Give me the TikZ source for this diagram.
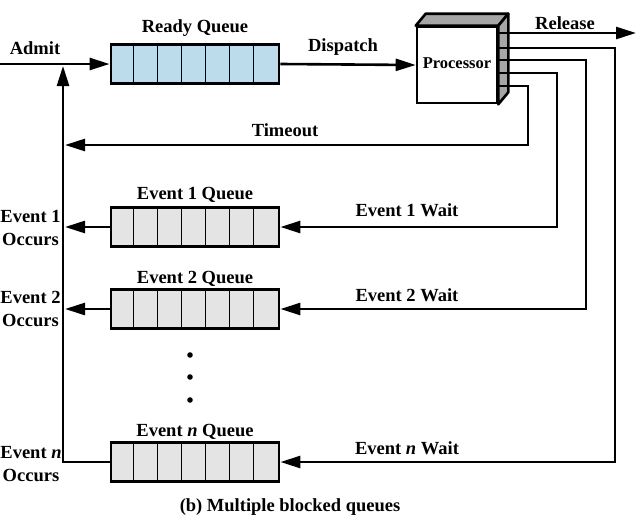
\documentclass[tikz,border=0pt]{standalone}
\usepackage{fontspec}
\setmainfont{Liberation Serif}
\usetikzlibrary{arrows.meta,calc}
\definecolor{readyblue}{HTML}{BCDCEB}
\definecolor{blockgray}{HTML}{E4E4E4}
\definecolor{boxshade}{HTML}{A6A6A6}
\begin{document}
\begin{tikzpicture}[x=1pt,y=-1pt,
  lbl/.style={font=\fontsize{18.5}{23}\selectfont\bfseries, inner sep=0pt, align=center},
  wire/.style={line width=2.6pt},
  arr/.style={wire,-{Triangle[length=20pt,width=12pt]}},
  queue/.style={draw, line width=2.8pt, minimum width=168pt, minimum height=39pt, inner sep=0pt},
  divider/.style={line width=1.4pt}]
\useasboundingbox (0,0) rectangle (636,522);

% queues
\node[queue, fill=readyblue] (rq) at (195,64) {};
\node[queue, fill=blockgray] (q1) at (195,227) {};
\node[queue, fill=blockgray] (q2) at (195,309) {};
\node[queue, fill=blockgray] (qn) at (195,462) {};
\foreach \q in {rq,q1,q2,qn}{
  \foreach \i in {1,...,6}{
    \draw[divider] ($(\q.north west)+(24*\i,0)$) -- ($(\q.south west)+(24*\i,0)$);
  }
}

% processor block
\node[draw, line width=2.6pt, fill=white, minimum width=80pt, minimum height=76pt, inner sep=0pt] (proc) at (457,65) {};
\draw[line width=2.6pt, fill=boxshade, line join=round]
  (proc.north west) -- ++(10,-12) -- ($(proc.north east)+(10,-12)$) -- (proc.north east) -- cycle;
\draw[line width=2.6pt, fill=boxshade, line join=round]
  (proc.north east) -- ++(10,-12) -- ($(proc.south east)+(10,-12)$) -- (proc.south east) -- cycle;
\node[font=\fontsize{16.5}{19}\selectfont\bfseries, inner sep=0pt] (proclbl) at (457,63) {Processor};

% processor outputs
\coordinate (p1) at (499,33);
\coordinate (p2) at (499,48);
\coordinate (p3) at (499,60);
\coordinate (p4) at (499,73);
\coordinate (p5) at (499,86);
\coordinate (out) at (636,33);
\coordinate (bus) at (63,66);
\coordinate (admitin) at (0,64);

% connectors
\draw[arr] (admitin) -- (rq.west);
\draw[arr] (rq.east) -- (proc.west);
\draw[arr] (p1) -- (out);
\draw[arr] (p5) -- (528,86) -- (528,145) -- (65,145);
\draw[arr] (p4) -- (557,73) -- (557,227) -- (q1.east);
\draw[arr] (p3) -- (586,60) -- (586,309) -- (q2.east);
\draw[arr] (p2) -- (615,48) -- (615,462) -- (qn.east);
\draw[arr] (q1.west) -- (65,227);
\draw[arr] (q2.west) -- (65,309);
\draw[arr] (qn.west) -- (63,462) -- (bus);

% dots
\foreach \yy [count=\k] in {355,377,400}{
  \fill (190,\yy) circle (2.8pt) coordinate (dot\k);
}

% labels
\node[lbl] (admit) at (35,48) {Admit};
\node[lbl] (rqlbl) at (195,28) {Ready Queue};
\node[lbl] (dispatch) at (343,47) {Dispatch};
\node[lbl] (release) at (565,23) {Release};
\node[lbl] (timeout) at (285,130) {Timeout};
\node[lbl] (q1lbl) at (195,195) {Event 1 Queue};
\node[lbl] (q2lbl) at (195,279) {Event 2 Queue};
\node[lbl] (qnlbl) at (195,432) {Event {\itshape n} Queue};
\node[lbl] (w1) at (407,210) {Event 1 Wait};
\node[lbl] (w2) at (407,295) {Event 2 Wait};
\node[lbl] (wn) at (407,448) {Event {\itshape n} Wait};
\node[lbl] (o1) at (30.5,228) {Event 1\\Occurs};
\node[lbl] (o2) at (30.5,309) {Event 2\\Occurs};
\node[lbl] (on) at (31,464) {Event {\itshape n}\\Occurs};
\node[lbl] (caption) at (290,507) {(b) Multiple blocked queues};
\end{tikzpicture}
\end{document}
